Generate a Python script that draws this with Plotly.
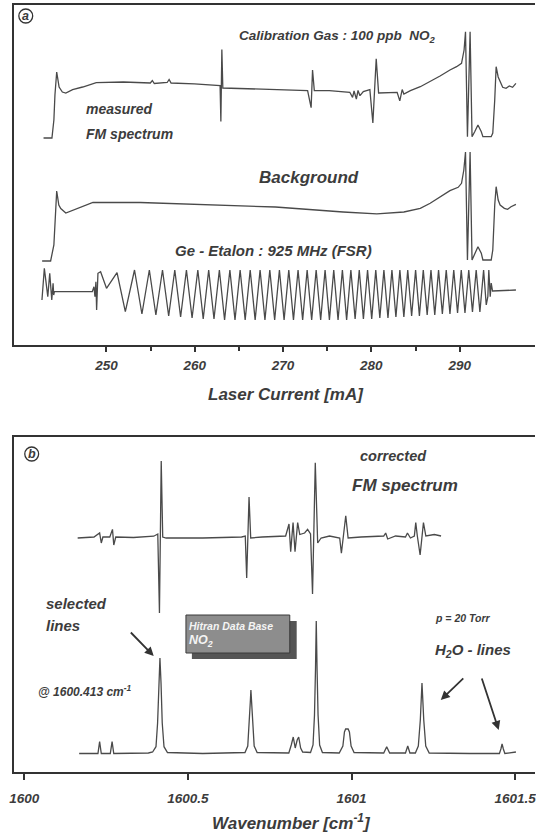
import plotly.graph_objects as go

# ---------------- data: panel (a) ----------------
# measured FM spectrum (laser current mA, signal a.u.)
meas_x = [242.88, 243.83, 244.05, 244.17, 244.37, 244.64, 245.01, 245.40, 246.17, 247.31,
          248.85, 251.91, 254.97, 255.20, 255.42, 256.88, 257.10, 257.32, 259.96, 262.03,
          262.87, 262.96, 263.07, 263.18, 267.18, 272.78, 273.18, 273.34, 273.54, 275.24,
          277.56, 277.87, 278.04, 278.30, 278.49, 278.71, 279.09, 279.83, 280.17, 280.55,
          280.82, 282.92, 283.22, 283.49, 283.68, 284.42, 285.54, 286.66, 287.78, 288.90,
          289.65, 290.21, 290.50, 290.66, 290.88, 291.18, 291.40, 291.70, 292.07, 292.45,
          292.63, 293.57, 293.75, 293.97, 294.13, 294.36, 294.58, 294.87, 295.25, 295.62,
          295.99, 296.37]
meas_y = [207, 207, 225, 250, 273, 258, 253, 252, 255.4, 258,
          262.3, 263, 262, 264.5, 261.5, 262.5, 265.5, 262, 261.2, 260,
          259.5, 223.6, 295.4, 257, 256, 254.4, 237.3, 275, 254.4, 254.4,
          252.7, 247.6, 254, 246, 254.5, 249.3, 253.4, 255.4, 222, 286.2,
          252, 252.7, 244.1, 255.4, 251, 254.4, 258.3, 263.3, 269, 275,
          278.3, 281.7, 295, 313.3, 208.3, 313.3, 208.3, 213.3, 220, 213.3,
          208.3, 208.3, 212, 245, 278.3, 268, 263, 257.7, 256.7, 259,
          257.7, 261.7]

# background
bg_x = [242.72, 243.68, 244.05, 244.20, 244.37, 244.61, 244.83, 245.40, 246.17, 248.47,
        253.83, 261.47, 269.14, 276.80, 280.62, 283.68, 285.54, 286.66, 287.78, 288.90,
        289.83, 290.21, 290.47, 290.66, 290.88, 291.18, 291.40, 291.70, 292.07, 292.45,
        292.63, 293.57, 293.75, 293.97, 294.13, 294.36, 294.58, 295.06, 295.43, 295.81,
        296.37]
bg_y = [84, 84, 100, 130, 154, 140, 136.4, 132, 134.7, 142.5,
        142.5, 140.5, 138, 133, 131.2, 133, 136.7, 141.7, 148.3, 154.3,
        157.7, 161.7, 175, 193, 85, 193, 85, 91.7, 98.3, 91.7,
        85, 85, 95, 140, 158.3, 145, 140, 136.7, 135.7, 138.3,
        140.7]

# Ge etalon fringes
etalon_x = [242.70, 242.97, 243.36, 243.58, 243.81, 243.96, 244.03, 244.11, 248.40, 248.59,
            248.70, 248.81, 248.89, 249.04, 249.34, 250.01, 251.20, 252.14,
            253.18, 254.02, 254.86, 255.60, 256.35, 257.05, 257.74, 258.40, 259.06, 259.70,
            260.35, 260.96, 261.58, 262.18, 262.79, 263.38, 263.98, 264.56, 265.14, 265.71,
            266.28, 266.84, 267.40, 267.95, 268.50, 269.05, 269.59, 270.12, 270.65, 271.18,
            271.70, 272.22, 272.73, 273.24, 273.75, 274.26, 274.76, 275.25, 275.74, 276.23,
            276.72, 277.20, 277.68, 278.16, 278.63, 279.10, 279.57, 280.04, 280.50, 280.96,
            281.42, 281.88, 282.33, 282.78, 283.23, 283.68, 284.12, 284.56, 285.01, 285.44,
            285.88, 286.32, 286.75, 287.18, 287.61, 288.04, 288.48, 288.90, 289.33, 289.76,
            290.18, 290.60, 291.03, 291.45, 291.87, 292.29, 292.71, 293.01, 293.19, 293.30,
            293.46, 293.57, 293.72, 296.37]
etalon_y = [45, 76.7, 48.3, 71.7, 45, 61.7, 50, 53.3, 53.3, 58.3,
            48.3, 63.3, 35, 71.7, 73.3, 56.7, 72.3, 33.3,
            75, 31, 75, 30, 75, 29, 75, 28, 75, 27,
            75, 26, 75, 26, 75, 25, 75, 25, 75, 25,
            75, 25, 75, 25, 75, 25, 75, 25, 75, 25,
            75, 25, 75, 25, 75, 25, 75, 25, 75, 25,
            75, 25, 75, 26, 75, 26, 75, 26, 75, 27,
            75, 27, 75, 28, 75, 28, 75, 29, 75, 29,
            75, 30, 75, 30, 75, 31, 75, 31, 75, 32,
            75, 32, 75, 33, 75, 33, 75, 40, 48.3, 75,
            48.3, 62, 54, 55]

# ---------------- data: panel (b) ----------------
corr_x = [1600.1631, 1600.2130, 1600.2302, 1600.2353, 1600.2402, 1600.2613, 1600.2695, 1600.2734,
          1600.2795, 1600.3338, 1600.3955, 1600.4079, 1600.4130, 1600.4184, 1600.4230, 1600.4335,
          1600.5453, 1600.6640, 1600.6752, 1600.6795, 1600.6867, 1600.6918, 1600.7266, 1600.7985,
          1600.8088, 1600.8139, 1600.8212, 1600.8272, 1600.8353, 1600.8417, 1600.8565, 1600.8656,
          1600.8746, 1600.8807, 1600.8891, 1600.8964, 1600.9069, 1600.9326, 1600.9637, 1600.9689,
          1600.9822, 1600.9894, 1601.0287, 1601.0982, 1601.1042, 1601.1103, 1601.1344, 1601.1647,
          1601.1707, 1601.1798, 1601.1918, 1601.1961, 1601.2009, 1601.2094, 1601.2196, 1601.2269,
          1601.2529, 1601.2734]
corr_y = [234, 235, 239, 229, 235, 235, 242.6, 227,
          235, 234.5, 235.8, 238, 159, 311, 235, 234,
          234, 235, 236, 194, 275, 234, 235, 236,
          248, 220.4, 249.4, 220.4, 249.4, 237.5, 239, 242.6,
          238, 178, 309.3, 229, 234, 236, 234, 218.7,
          256.3, 234, 235, 236, 239, 233, 236, 235,
          239, 234, 236, 249.4, 236, 217, 249.4, 236,
          237.5, 236]

hitran_x = [1600.1677, 1600.2251, 1600.2302, 1600.2353, 1600.2628, 1600.2683, 1600.2734, 1600.3792,
            1600.3921, 1600.4024, 1600.4073, 1600.4115, 1600.4145, 1600.4178, 1600.4215, 1600.4269,
            1600.4375, 1600.5453, 1600.6743, 1600.6828, 1600.6873, 1600.6909, 1600.6924, 1600.6943,
            1600.6979, 1600.7024, 1600.7115, 1600.8082, 1600.8157, 1600.8218, 1600.8278, 1600.8338,
            1600.8384, 1600.8444, 1600.8505, 1600.8746, 1600.8822, 1600.8867, 1600.8897, 1600.8921,
            1600.8946, 1600.8976, 1600.9024, 1600.9109, 1600.9622, 1600.9734, 1600.9782, 1600.9819,
            1600.9894, 1600.9934, 1600.9985, 1601.0076, 1601.0982, 1601.1073, 1601.1163, 1601.1647,
            1601.1716, 1601.1782, 1601.1949, 1601.2039, 1601.2100, 1601.2136, 1601.2151, 1601.2169,
            1601.2205, 1601.2266, 1601.2372, 1601.3610, 1601.4517, 1601.4562, 1601.4598, 1601.4637,
            1601.4683, 1601.5021]
hitran_y = [18.5, 18.5, 30.3, 18.5, 18.5, 30.3, 18.5, 19,
            20, 25.3, 49, 89, 114, 89, 49, 25.3,
            19.5, 18.5, 19.5, 26, 47, 72, 82, 72,
            47, 26, 19.5, 19, 27, 35, 24, 32,
            35, 24, 20, 19.5, 27, 57, 102, 151,
            102, 57, 27, 19.5, 19, 26, 40, 43,
            43, 40, 26, 19.5, 19, 25.3, 19, 19,
            26, 19, 19, 26, 52, 77, 89, 77,
            52, 26, 19, 18.5, 18.5, 23, 28, 23,
            18.5, 20]

a_ticks = [250, 260, 270, 280, 290]
a_minor = [255, 265, 275, 285]
b_ticks = [1600, 1600.5, 1601, 1601.5]
b_ticktext = ["1600", "1600.5", "1601", "1601.5"]

# ---------------- layout helpers ----------------
W, H = 536, 835
def PX(x):
    return x / W
def PY(y):
    return 1 - y / H

LINE = "#4a4a4a"
AX = "#333333"
TXT = "#3c3c3c"
FONT = "Liberation Sans, Arial, sans-serif"

fig = go.Figure()
for xs, ys, xa, ya in [(meas_x, meas_y, "x", "y"), (bg_x, bg_y, "x", "y"),
                       (etalon_x, etalon_y, "x", "y"),
                       (corr_x, corr_y, "x2", "y2"), (hitran_x, hitran_y, "x2", "y2")]:
    fig.add_trace(go.Scatter(x=xs, y=ys, mode="lines", line=dict(color=LINE, width=1.3),
                             xaxis=xa, yaxis=ya, showlegend=False, hoverinfo="skip"))

tickfont = dict(family=FONT, size=13.5, color=TXT, weight="bold", style="italic")

fig.update_layout(
    width=W, height=H, margin=dict(l=0, r=0, t=0, b=0),
    paper_bgcolor="white", plot_bgcolor="white",
    xaxis=dict(domain=[PX(9.6), 1], range=[239.59, 298.53], tickvals=a_ticks,
               showline=True, linecolor=AX, linewidth=2, mirror=True,
               ticks="outside", ticklen=5, tickwidth=1.5, tickcolor=AX,
               minor=dict(tickvals=a_minor, ticks="outside", ticklen=4, tickcolor=AX, tickwidth=1.5),
               showgrid=False, zeroline=False, tickfont=tickfont, anchor="y",
               ticklabelstandoff=2, ticklabeloverflow="allow"),
    yaxis=dict(domain=[PY(345), PY(5)], range=[0, 340], showline=True, linecolor=AX,
               linewidth=2, showticklabels=False, ticks="", showgrid=False, zeroline=False,
               anchor="x"),
    xaxis2=dict(domain=[PX(9.6), 1], range=[1599.9701, 1601.5604], tickvals=b_ticks,
                ticktext=b_ticktext,
                showline=True, linecolor=AX, linewidth=2, mirror=True,
                ticks="outside", ticklen=6, tickwidth=1.5, tickcolor=AX,
                showgrid=False, zeroline=False, tickfont=tickfont, anchor="y2",
                ticklabelstandoff=7, ticklabeloverflow="allow"),
    yaxis2=dict(domain=[PY(772), PY(437)], range=[0, 335], showline=True, linecolor=AX,
                linewidth=2, showticklabels=False, ticks="", showgrid=False, zeroline=False,
                anchor="x2"),
)

ann = []
def text(px, py, s, size, xanchor="center", color=TXT):
    ann.append(dict(xref="paper", yref="paper", x=PX(px), y=PY(py), text=s, showarrow=False,
                    xanchor=xanchor, yanchor="middle",
                    font=dict(family=FONT, size=size, color=color)))

text(284, 394, "<b><i>Laser Current [mA]</i></b>", 17)
text(290, 822, "<b><i>Wavenumber [cm<sup>-1</sup>]</i></b>", 17)

text(235, 36, "<b><i>Calibration Gas : 100 ppb  NO<sub>2</sub></i></b>", 13.5, "left")
text(80, 109, "<b><i>measured</i></b>", 14, "left")
text(80, 134, "<b><i>FM spectrum</i></b>", 14, "left")
text(307, 178, "<b><i>Background</i></b>", 17)
text(272, 251, "<b><i>Ge - Etalon : 925 MHz (FSR)</i></b>", 15)
text(21, 16, "<b><i>a</i></b>", 12.5)

text(27, 454, "<b><i>b</i></b>", 12.5)
text(357, 456, "<b><i>corrected</i></b>", 14.5, "left")
text(349, 485, "<b><i>FM spectrum</i></b>", 17, "left")
text(39, 603, "<b><i>selected</i></b>", 15, "left")
text(39, 625, "<b><i>lines</i></b>", 15, "left")
text(31, 691, "<b><i>@ 1600.413 cm<sup>-1</sup></i></b>", 12, "left")
text(433, 618, "<b><i>p = 20 Torr</i></b>", 10.5, "left")
text(433, 650, "<b><i>H<sub>2</sub>O - lines</i></b>", 15, "left")
text(184, 626, "<b><i>Hitran Data Base</i></b>", 10.5, "left", color="#f4f4f4")
text(184, 641, "<b><i>NO<sub>2</sub></i></b>", 12.5, "left", color="#f4f4f4")

# arrows (data coordinates of panel b)
for tail, head in [((1600.3211, 141), (1600.3955, 116)),
                   ((1601.3459, 95), (1601.2725, 72)),
                   ((1601.3964, 95), (1601.4495, 42))]:
    ann.append(dict(xref="x2", yref="y2", axref="x2", ayref="y2",
                    x=head[0], y=head[1], ax=tail[0], ay=tail[1], text="",
                    showarrow=True, arrowhead=2, arrowsize=1, arrowwidth=1.8, arrowcolor="#333"))

fig.update_layout(annotations=ann)

shapes = []
# circled panel letters
for cx, cy in [(21, 16), (27, 454)]:
    shapes.append(dict(type="circle", xref="paper", yref="paper",
                       x0=PX(cx - 7), x1=PX(cx + 7), y0=PY(cy + 7), y1=PY(cy - 7),
                       line=dict(color=AX, width=1.3)))
# Hitran box with drop shadow
shapes.append(dict(type="rect", xref="paper", yref="paper",
                   x0=PX(189), x1=PX(295), y0=PY(659), y1=PY(621),
                   fillcolor="#555555", line=dict(width=0)))
shapes.append(dict(type="rect", xref="paper", yref="paper",
                   x0=PX(183), x1=PX(288), y0=PY(653), y1=PY(615),
                   fillcolor="#8d8d8d", line=dict(color="#3a3a3a", width=1)))
fig.update_layout(shapes=shapes)

fig.write_html("out.html")
